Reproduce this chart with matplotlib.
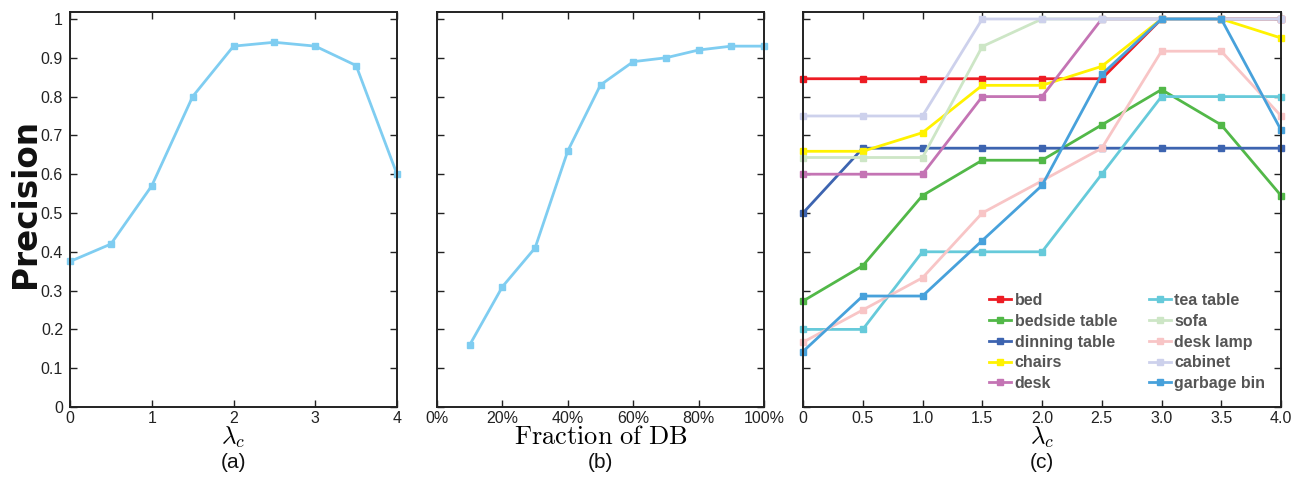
import matplotlib
matplotlib.use("Agg")
import matplotlib.pyplot as plt

plt.rcParams['font.family'] = ['Liberation Sans', 'DejaVu Sans']
plt.rcParams['mathtext.fontset'] = 'cm'

# ---- data ----
lam_a = [0, 0.5, 1, 1.5, 2, 2.5, 3, 3.5, 4]
prec_a = [0.375, 0.42, 0.57, 0.80, 0.93, 0.94, 0.93, 0.88, 0.60]

frac_b = [0.1, 0.2, 0.3, 0.4, 0.5, 0.6, 0.7, 0.8, 0.9, 1.0]
prec_b = [0.16, 0.31, 0.41, 0.66, 0.83, 0.89, 0.90, 0.92, 0.93, 0.93]

lam_c = [0, 0.5, 1.0, 1.5, 2.0, 2.5, 3.0, 3.5, 4.0]
categories = ['bed', 'bedside table', 'dinning table', 'chairs', 'desk',
              'tea table', 'sofa', 'desk lamp', 'cabinet', 'garbage bin']
bed = [0.846, 0.846, 0.846, 0.846, 0.846, 0.846, 1.0, 1.0, 1.0]
bedside_table = [0.273, 0.364, 0.545, 0.636, 0.636, 0.727, 0.818, 0.727, 0.545]
dinning_table = [0.5, 0.667, 0.667, 0.667, 0.667, 0.667, 0.667, 0.667, 0.667]
chairs = [0.659, 0.659, 0.707, 0.829, 0.829, 0.878, 1.0, 1.0, 0.951]
desk = [0.6, 0.6, 0.6, 0.8, 0.8, 1.0, 1.0, 1.0, 1.0]
tea_table = [0.2, 0.2, 0.4, 0.4, 0.4, 0.6, 0.8, 0.8, 0.8]
sofa = [0.643, 0.643, 0.643, 0.929, 1.0, 1.0, 1.0, 1.0, 1.0]
desk_lamp = [0.167, 0.25, 0.333, 0.5, 0.583, 0.667, 0.917, 0.917, 0.75]
cabinet = [0.75, 0.75, 0.75, 1.0, 1.0, 1.0, 1.0, 1.0, 1.0]
garbage_bin = [0.143, 0.286, 0.286, 0.429, 0.571, 0.857, 1.0, 1.0, 0.714]
series_c = [bed, bedside_table, dinning_table, chairs, desk,
            tea_table, sofa, desk_lamp, cabinet, garbage_bin]
colors_c = ['#ED1C24', '#52B848', '#3D64B0', '#FFF200', '#C474B4',
            '#66CADA', '#CDE6C6', '#F8C5C6', '#CDD1EC', '#47A1DB']

yticks = [0, 0.1, 0.2, 0.3, 0.4, 0.5, 0.6, 0.7, 0.8, 0.9, 1.0]
ytick_labels = ['0', '0.1', '0.2', '0.3', '0.4', '0.5', '0.6', '0.7', '0.8', '0.9', '1']
xticks_a = [0, 1, 2, 3, 4]
xticks_b = [0, 0.2, 0.4, 0.6, 0.8, 1.0]
xtick_labels_b = ['0%', '20%', '40%', '60%', '80%', '100%']
xticks_c = [0, 0.5, 1.0, 1.5, 2.0, 2.5, 3.0, 3.5, 4.0]
xtick_labels_c = ['0', '0.5', '1.0', '1.5', '2.0', '2.5', '3.0', '3.5', '4.0']

W, H = 1302, 497
fig = plt.figure(figsize=(W / 100, H / 100), dpi=100)

def ax_at(l, r, t, b):
    return fig.add_axes([l / W, 1 - b / H, (r - l) / W, (b - t) / H])

axA = ax_at(70, 397, 12, 407)
axB = ax_at(437, 764, 12, 407)
axC = ax_at(803, 1281, 12, 407)

line_c = '#7FCDF1'
tick_fs = 11.5

for ax in (axA, axB, axC):
    ax.set_ylim(0, 1.018)
    ax.set_yticks(yticks)
    ax.tick_params(direction='in', length=5, width=1.0, top=True, right=True,
                   labelsize=tick_fs, colors='#222222', pad=3)
    for s in ax.spines.values():
        s.set_linewidth(1.4)
        s.set_color('#222222')

# (a)
axA.plot(lam_a, prec_a, color=line_c, lw=2, marker='s', ms=4, clip_on=False)
axA.set_xlim(0, 4)
axA.set_xticks(xticks_a)
axA.set_yticklabels(ytick_labels)
axA.tick_params(axis='y', pad=5)
axA.set_xlabel(r'$\lambda_c$', fontsize=18, labelpad=-1)

# (b)
axB.plot(frac_b, prec_b, color=line_c, lw=2, marker='s', ms=4, clip_on=False)
axB.set_xlim(0, 1)
axB.set_xticks(xticks_b)
axB.set_xticklabels(xtick_labels_b)
axB.set_yticklabels([])
axB.set_xlabel(r'$\mathrm{Fraction\ of\ DB}$', fontsize=19, labelpad=-1)

# (c)
for cat, vals, col in zip(categories, series_c, colors_c):
    axC.plot(lam_c, vals, color=col, lw=2, marker='s', ms=4, label=cat, clip_on=False)
axC.set_xlim(0, 4)
axC.set_xticks(xticks_c)
axC.set_xticklabels(xtick_labels_c)
axC.set_yticklabels([])
axC.set_xlabel(r'$\lambda_c$', fontsize=18, labelpad=-1)

leg = fig.legend(loc='upper left', bbox_to_anchor=(989 / W, 1 - 293 / H), ncol=2,
                 frameon=False, borderpad=0, borderaxespad=0,
                 handlelength=1.4, handletextpad=0.2, columnspacing=2.0,
                 labelspacing=0.36, prop={'weight': 'bold', 'size': 11.5})
for t in leg.get_texts():
    t.set_color('#555555')

fig.text(35 / W, 1 - 204 / H, 'Precision', rotation=90, rotation_mode='anchor',
         fontsize=23.5, family='DejaVu Sans', fontweight='bold',
         ha='center', va='baseline', color='#111111')

for x, s in [(233, '(a)'), (600, '(b)'), (1042, '(c)')]:
    fig.text(x / W, 1 - 462 / H, s, fontsize=15, ha='center', va='center', color='#111111')

fig.savefig('out.png', dpi=100)
